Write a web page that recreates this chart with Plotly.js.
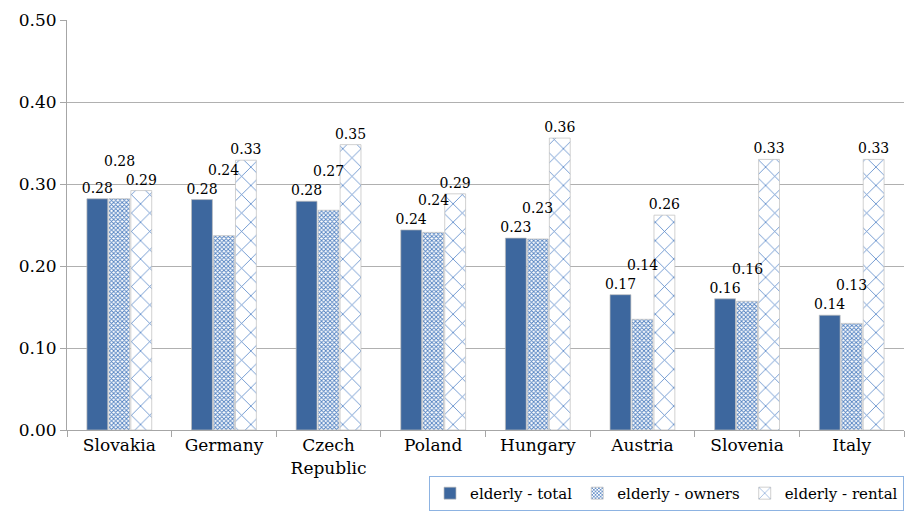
<!DOCTYPE html>
<html>
<head>
<meta charset="utf-8">
<script src="https://cdn.plot.ly/plotly-3.0.1.min.js"></script>
<style>
html,body{margin:0;padding:0;background:#fff;}
#chart{width:906px;height:530px;}
</style>
</head>
<body>
<div id="chart"></div>
<script>
var categories = ["Slovakia", "Germany", "Czech<br>Republic", "Poland", "Hungary", "Austria", "Slovenia", "Italy"];
var elderlyTotal = [0.282, 0.281, 0.279, 0.244, 0.234, 0.165, 0.160, 0.140];
var elderlyOwners = [0.282, 0.237, 0.268, 0.241, 0.233, 0.135, 0.157, 0.130];
var elderlyRental = [0.292, 0.329, 0.348, 0.288, 0.356, 0.262, 0.330, 0.330];
var seriesNames = ["elderly - total", "elderly - owners", "elderly - rental"];
var yTicks = [0, 0.1, 0.2, 0.3, 0.4, 0.5];

var serif = "DejaVu Serif";
var labelFont = {family: serif, size: 14, color: "#000"};

function fmt(arr){ return arr.map(function(v){ return v.toFixed(2); }); }

// owners labels are lifted above the neighbouring total label to avoid collisions
var ownersAnn = elderlyOwners.map(function(v, i){
  var base = Math.max(v, elderlyTotal[i]);
  if (elderlyRental[i] - base < 0.03) base = Math.max(base, elderlyRental[i]);
  return {
    x: categories[i], y: base, xref: "x", yref: "y",
    text: v.toFixed(2), showarrow: false, yanchor: "bottom",
    yshift: 20, font: labelFont
  };
});

var traces = [
  {
    type: "bar", name: seriesNames[0], x: categories, y: elderlyTotal,
    text: fmt(elderlyTotal), textposition: "outside", textfont: labelFont, constraintext: "none",
    marker: {color: "#3d679e", line: {color: "rgba(190,190,190,0.7)", width: 1}},
    hoverinfo: "skip"
  },
  {
    type: "bar", name: seriesNames[1], x: categories, y: elderlyOwners,
    marker: {color: "#ffffff", line: {color: "rgba(190,190,190,0.7)", width: 1},
      pattern: {shape: "x", fgcolor: "#4f7fc0", bgcolor: "#ffffff", size: 3, solidity: 0.5, fillmode: "replace"}},
    hoverinfo: "skip"
  },
  {
    type: "bar", name: seriesNames[2], x: categories, y: elderlyRental,
    text: fmt(elderlyRental), textposition: "outside", textfont: labelFont, constraintext: "none",
    marker: {color: "#ffffff", line: {color: "rgba(190,190,190,0.7)", width: 1},
      pattern: {shape: "x", fgcolor: "#5585c8", bgcolor: "#ffffff", size: 13, solidity: 0.12, fillmode: "replace"}},
    hoverinfo: "skip"
  }
];

var layout = {
  width: 906, height: 530,
  margin: {l: 67, r: 2, t: 20, b: 100},
  paper_bgcolor: "#fff", plot_bgcolor: "#fff",
  barmode: "group", bargap: 0.37, bargroupgap: 0.05,
  font: {family: serif, size: 17, color: "#000"},
  annotations: ownersAnn,
  xaxis: {
    type: "category", showline: true, linecolor: "#a6a6a6", linewidth: 1,
    ticks: "outside", tickson: "boundaries", ticklen: 6, tickcolor: "#a6a6a6",
    tickfont: {family: serif, size: 17, color: "#000"}, showgrid: false
  },
  yaxis: {
    range: [0, 0.5], tickvals: yTicks, tickformat: ".2f",
    showgrid: true, gridcolor: "#b0b0b0", gridwidth: 1,
    showline: true, linecolor: "#a6a6a6", linewidth: 1,
    ticks: "outside", ticklen: 6, tickcolor: "#a6a6a6",
    tickfont: {family: serif, size: 17, color: "#000"}, zeroline: false
  },
  legend: {
    orientation: "h", x: 1, xanchor: "right", y: -0.112, yanchor: "top",
    bordercolor: "#8db3e2", borderwidth: 1, bgcolor: "#fff",
    font: {family: serif, size: 15, color: "#000"}, itemwidth: 30
  },
  showlegend: true
};

Plotly.newPlot("chart", traces, layout, {displayModeBar: false, staticPlot: true});
</script>
</body>
</html>
